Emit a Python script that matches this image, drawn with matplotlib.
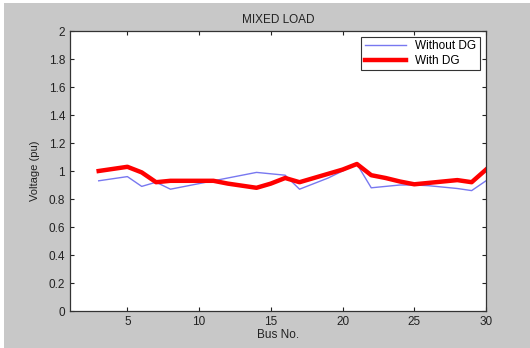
import numpy as np
import matplotlib
matplotlib.use('Agg')
import matplotlib.pyplot as plt
from matplotlib.patches import Rectangle

plt.rcParams['font.family'] = ['Liberation Sans', 'DejaVu Sans']

bus = list(range(3, 31))
without_dg = [0.93, 0.945, 0.96, 0.89, 0.92, 0.87, 0.89, 0.91, 0.93, 0.95,
              0.97, 0.99, 0.98, 0.97, 0.87, 0.91, 0.95, 1.00, 1.05, 0.88,
              0.89, 0.90, 0.90, 0.895, 0.885, 0.875, 0.86, 0.93]
with_dg = [1.00, 1.015, 1.03, 0.99, 0.92, 0.93, 0.93, 0.93, 0.93, 0.91,
           0.895, 0.88, 0.91, 0.95, 0.92, 0.95, 0.98, 1.01, 1.05, 0.97,
           0.95, 0.925, 0.905, 0.915, 0.925, 0.935, 0.92, 1.01]
y_ticks = [0, 0.2, 0.4, 0.6, 0.8, 1, 1.2, 1.4, 1.6, 1.8, 2]
x_ticks = [5, 10, 15, 20, 25, 30]

W, H = 530, 348
fig = plt.figure(figsize=(W / 100, H / 100), dpi=100, facecolor='white')
# gray figure panel (MATLAB style)
fig.patches.append(Rectangle((4 / W, 0), 1, 345 / H, transform=fig.transFigure,
                             facecolor='#c8c8c8', edgecolor='none', zorder=-10))

ax = fig.add_axes([70 / W, (H - 311) / H, (486 - 70) / W, (311 - 31) / H])
ax.plot(bus, without_dg, color='#7878f0', lw=1.0, label='Without DG')
ax.plot(bus, with_dg, color='#ff0000', lw=3.2, label='With DG')

ax.set_xlim(1, 30)
ax.set_ylim(0, 2)
ax.set_xticks(x_ticks)
ax.set_yticks(y_ticks)
ax.set_yticklabels(['%g' % v for v in y_ticks])
ax.tick_params(direction='in', top=True, right=True, labelsize=8.5, length=3,
               colors='#222222')
for s in ax.spines.values():
    s.set_color('#333333')
    s.set_linewidth(0.9)

ax.set_title('MIXED LOAD', fontsize=8.5, pad=6, color='#222222')
ax.set_xlabel('Bus No.', fontsize=8.5, labelpad=1, color='#222222')
ax.set_ylabel('Voltage (pu)', fontsize=8, labelpad=6, color='#222222')

leg = ax.legend(loc='upper right', fontsize=8.5, fancybox=False, framealpha=1,
                edgecolor='#333333', borderaxespad=0.5, handlelength=3.5,
                labelspacing=0.2, borderpad=0.3)
leg.get_frame().set_linewidth(0.8)

fig.savefig('out.png', dpi=100, facecolor=fig.get_facecolor())
